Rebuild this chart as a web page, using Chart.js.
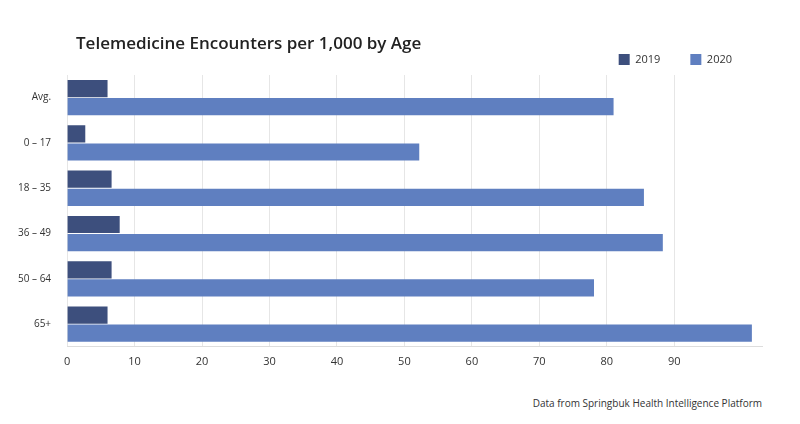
<!DOCTYPE html>
<html><head><meta charset="utf-8">
<script src="https://cdn.jsdelivr.net/npm/chart.js@4"></script>
<style>
body{margin:0;background:#fff;font-family:"Open Sans",sans-serif;}
#wrap{position:relative;width:800px;height:424px;}
#title{position:absolute;left:76px;top:31px;font-size:17px;font-weight:600;color:#222;}
#note{position:absolute;right:38px;top:396px;font-size:10px;color:#333;}
#box{position:absolute;left:0;top:24px;}
</style></head><body>
<div id="wrap">
<canvas id="box" width="780" height="352"></canvas>
<div id="title">Telemedicine Encounters per 1,000 by Age</div>
<div id="note">Data from Springbuk Health Intelligence Platform</div>
</div>
<script>
var categories = ['Avg.', '0 – 17', '18 – 35', '36 – 49', '50 – 64', '65+'];
var values2019 = [6.0, 2.7, 6.6, 7.8, 6.6, 6.0];
var values2020 = [81.0, 52.2, 85.5, 88.3, 78.1, 101.5];

new Chart(document.getElementById('box'), {
  type: 'bar',
  data: {
    labels: categories,
    datasets: [
      {label: '2019', data: values2019, backgroundColor: '#3d4f7d'},
      {label: '2020', data: values2020, backgroundColor: '#5f7fc0'}
    ]
  },
  options: {
    indexAxis: 'y',
    responsive: false,
    animation: false,
    layout: {padding: {left: 10, right: 18}},
    datasets: {bar: {categoryPercentage: 0.8, barPercentage: 0.95}},
    plugins: {
      legend: {
        align: 'end',
        labels: {boxWidth: 11, boxHeight: 11, padding: 30, color: '#333', font: {family: 'Open Sans', size: 11}}
      },
      tooltip: {enabled: false}
    },
    scales: {
      x: {
        min: 0, max: 103,
        afterBuildTicks: function (ax) { ax.ticks = ax.ticks.filter(function (t) { return t.value % 10 === 0; }); },
        ticks: {stepSize: 10, color: '#333', font: {family: 'Open Sans', size: 11}, padding: 8},
        grid: {color: '#e6e6e6', drawTicks: false},
        border: {color: '#ddd'}
      },
      y: {
        ticks: {color: '#333', font: {family: 'Open Sans', size: 10}, padding: 8},
        grid: {display: false},
        border: {display: false}
      }
    }
  }
});
</script>
</body></html>
